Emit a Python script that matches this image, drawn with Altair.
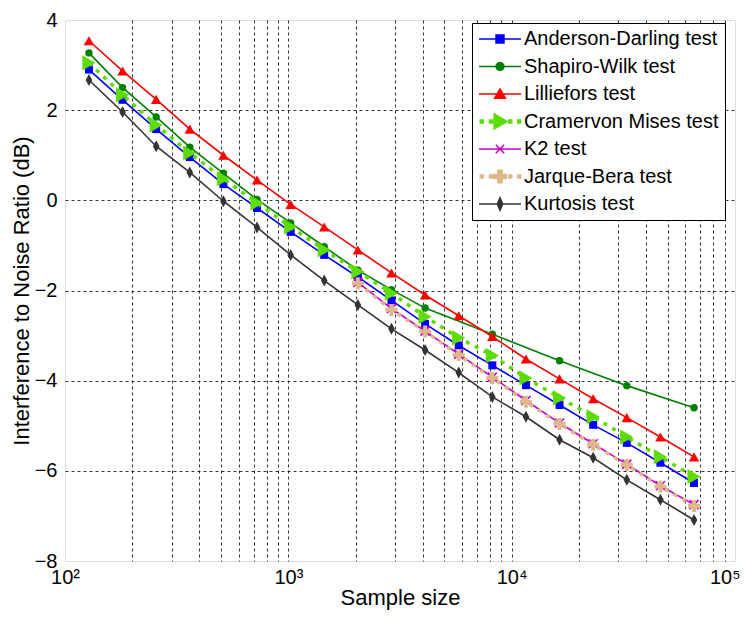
import altair as alt
import pandas as pd

# ---------------- data ----------------
N_FULL = [128, 181, 256, 362, 512, 724, 1024, 1448, 2048, 2896, 4096, 5793,
          8192, 11585, 16384, 23170, 32768, 46341, 65536]
N_SW = [128, 181, 256, 362, 512, 724, 1024, 1448, 2048, 2896, 4096,
        8192, 16384, 32768, 65536]
N_HI = [2048, 2896, 4096, 5793, 8192, 11585, 16384, 23170, 32768, 46341, 65536]

AD = [2.90, 2.23, 1.58, 0.96, 0.36, -0.17, -0.70, -1.21, -1.70, -2.22, -2.74,
      -3.22, -3.66, -4.10, -4.54, -4.98, -5.38, -5.82, -6.27]
SW = [3.27, 2.50, 1.85, 1.18, 0.60, 0.02, -0.50, -1.03, -1.55, -1.98, -2.39,
      -2.97, -3.56, -4.11, -4.60]
LF = [3.54, 2.87, 2.24, 1.58, 1.00, 0.45, -0.09, -0.59, -1.10, -1.61, -2.10,
      -2.56, -3.02, -3.52, -3.96, -4.40, -4.82, -5.25, -5.69]
CVM = [3.05, 2.34, 1.67, 1.05, 0.48, -0.06, -0.59, -1.10, -1.58, -2.06, -2.58,
       -3.05, -3.44, -3.94, -4.38, -4.80, -5.25, -5.69, -6.13]
K2 = [-1.82, -2.40, -2.90, -3.41, -3.92, -4.44, -4.94, -5.40, -5.85, -6.33, -6.75]
JB = [-1.84, -2.43, -2.91, -3.43, -3.94, -4.47, -4.96, -5.42, -5.87, -6.35, -6.78]
KURT = [2.67, 1.96, 1.20, 0.62, -0.02, -0.60, -1.21, -1.78, -2.32, -2.85, -3.32,
        -3.82, -4.36, -4.80, -5.31, -5.71, -6.20, -6.64, -7.09]

NAMES = ["Anderson-Darling test", "Shapiro-Wilk test", "Lilliefors test",
         "Cramervon Mises test", "K2 test", "Jarque-Bera test", "Kurtosis test"]
COLORS = ["#0000ff", "#008000", "#ff0000", "#5cdc00", "#cc00cc", "#deb887", "#333333"]

X_GRID = [100, 200, 300, 400, 500, 600, 700, 800, 900,
          1000, 2000, 3000, 4000, 5000, 6000, 7000, 8000, 9000,
          10000, 20000, 30000, 40000, 50000, 60000, 70000, 80000, 90000, 100000]
Y_TICKS = [-8, -6, -4, -2, 0, 2, 4]

rows = []
for name, xs, ys in zip(NAMES, [N_FULL, N_SW, N_FULL, N_FULL, N_HI, N_HI, N_FULL],
                        [AD, SW, LF, CVM, K2, JB, KURT]):
    for x, y in zip(xs, ys):
        rows.append({"series": name, "N": x, "INR": y})
df = pd.DataFrame(rows)

# ---------------- styles ----------------
FONT = "Liberation Sans"

x_axis = alt.Axis(
    values=X_GRID,
    labelExpr="datum.value == 100 ? '10\u00b2' : datum.value == 1000 ? '10\u00b3' : "
              "datum.value == 10000 ? '10\u2074' : datum.value == 100000 ? '10\u2075' : ''",
    labelOverlap=False, labelFlush=False, labelBound=False,
    labelAlign={"condition": {"test": "datum.value == 100000", "value": "right"}, "value": "center"},
    labelOffset={"condition": {"test": "datum.value == 100000", "value": 5}, "value": 0},
    grid=True, gridColor="black", gridDash=[3, 3], gridWidth=0.8,
    gridOpacity={"condition": {"test": "datum.value == 100 || datum.value == 100000", "value": 0}, "value": 1},
    ticks=False, domain=False,
    labelFontSize=20, labelColor="black", labelPadding=6, labelFont=FONT,
    title="Sample size", titleFontSize=22, titleFontWeight="normal", titleColor="black",
    titlePadding=0, titleFont=FONT,
)
y_axis = alt.Axis(
    values=Y_TICKS,
    grid=True, gridColor="black", gridDash=[3, 3], gridWidth=0.8,
    gridOpacity={"condition": {"test": "datum.value == -8 || datum.value == 4", "value": 0}, "value": 1},
    ticks=False, domain=False,
    labelFontSize=20, labelColor="black", labelPadding=8, labelFont=FONT,
    title="Interference to Noise Ratio (dB)", titleFontSize=22, titleFontWeight="normal",
    titleColor="black", titlePadding=1, titleFont=FONT,
)
xs = alt.Scale(type="log", domain=[100, 100000])
ys = alt.Scale(domain=[-8, 4])

X = alt.X("N:Q", scale=xs, axis=x_axis)
Y = alt.Y("INR:Q", scale=ys, axis=y_axis)

# per-series line/marker style
LINE_STYLE = {
    "Anderson-Darling test": dict(strokeWidth=1.6),
    "Shapiro-Wilk test": dict(strokeWidth=1.6),
    "Lilliefors test": dict(strokeWidth=1.6),
    "Cramervon Mises test": dict(strokeWidth=3.5, strokeDash=[4, 6]),
    "K2 test": dict(strokeWidth=1.6),
    "Jarque-Bera test": dict(strokeWidth=3.5, strokeDash=[4, 6]),
    "Kurtosis test": dict(strokeWidth=1.6),
}
POINT_STYLE = {
    "Anderson-Darling test": dict(shape="square", size=64, filled=True),
    "Shapiro-Wilk test": dict(shape="circle", size=55, filled=True),
    "Lilliefors test": dict(shape="triangle-up", size=110, filled=True),
    "Cramervon Mises test": dict(shape="triangle-right", size=230, filled=True),
    "K2 test": dict(shape="M-1,-1L1,1M-1,1L1,-1", size=81, filled=False, strokeWidth=1.6),
    "Jarque-Bera test": dict(shape="M-1,-0.33H-0.33V-1H0.33V-0.33H1V0.33H0.33V1H-0.33V0.33H-1Z",
                             size=144, filled=True),
    "Kurtosis test": dict(shape="M0,-1L0.55,0L0,1L-0.55,0Z", size=144, filled=True),
}

layers = []
for name, color in zip(NAMES, COLORS):
    base = alt.Chart(df).transform_filter(alt.datum.series == name)
    layers.append(base.mark_line(color=color, clip=True, **LINE_STYLE[name]).encode(x=X, y=Y))
    layers.append(base.mark_point(color=color, opacity=1, clip=True, **POINT_STYLE[name]).encode(x=X, y=Y))

# ---------------- legend (line + marker glyphs, 1 unit = 21 px) ----------------
LINE = "M-1,0H1"
DOTS = ("M-0.94,-0.07h0.14v0.14h-0.14z M-0.5,-0.07h0.14v0.14h-0.14z "
        "M0.42,-0.07h0.14v0.14h-0.14z M0.84,-0.07h0.14v0.14h-0.14z")
LEG_PATHS = [
    LINE + " M-0.19,-0.19h0.38v0.38h-0.38z",
    LINE + " M-0.19,0A0.19,0.19 0 1,0 0.19,0A0.19,0.19 0 1,0 -0.19,0Z",
    LINE + " M0,-0.24L0.26,0.2L-0.26,0.2Z",
    DOTS + " M-0.28,-0.36L0.34,0L-0.28,0.36Z",
    LINE + " M-0.2,-0.2L0.2,0.2M-0.2,0.2L0.2,-0.2",
    DOTS + " M-0.3,-0.1H-0.1V-0.3H0.1V-0.1H0.3V0.1H0.1V0.3H-0.1V0.1H-0.3Z",
    LINE + " M0,-0.3L0.13,0L0,0.3L-0.13,0Z",
]

leg = alt.Legend(
    title=None, orient="none", legendX=407, legendY=3,
    symbolSize=1764, symbolStrokeWidth=1.5,
    labelFontSize=20, labelFont=FONT, labelColor="black", labelOffset=2, labelLimit=400,
    rowPadding=7.5, padding=6, strokeColor="black", fillColor="white",
    clipHeight=20, cornerRadius=0,
)
legend_layer = alt.Chart(df).transform_filter("false").mark_point(
    filled=False, opacity=1, strokeWidth=1.5
).encode(
    x=X, y=Y,
    color=alt.Color("series:N", scale=alt.Scale(domain=NAMES, range=COLORS), legend=leg),
    fill=alt.Fill("series:N", scale=alt.Scale(domain=NAMES, range=COLORS), legend=leg),
    shape=alt.Shape("series:N", scale=alt.Scale(domain=NAMES, range=LEG_PATHS), legend=leg),
)

chart = alt.layer(*layers, legend_layer).properties(
    width=670, height=541,
    autosize=alt.AutoSizeParams(type="none"),
    padding={"left": 57, "top": 12, "right": 5, "bottom": 52},
    background="white",
).configure_view(stroke="#555555", strokeWidth=1.2).configure(font=FONT)

chart.save("out.html", embed_options={"renderer": "svg", "actions": False})
